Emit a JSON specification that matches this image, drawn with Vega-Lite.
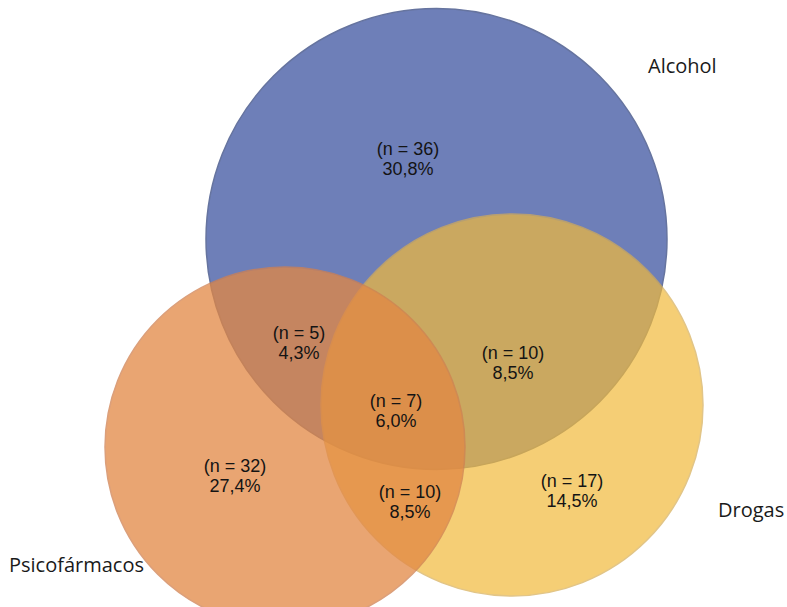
{
  "$schema": "https://vega.github.io/schema/vega-lite/v6.json",
  "autosize": {"type": "none"},
  "width": 787,
  "height": 607,
  "padding": 0,
  "background": "white",
  "config": {"view": {"stroke": null}},
  "datasets": {
    "circles": [
      {"set": "Alcohol", "cx": 436.5, "cy": 239, "r": 230.5},
      {"set": "Drogas", "cx": 512, "cy": 405, "r": 191},
      {"set": "Psicofármacos", "cx": 285, "cy": 447, "r": 180}
    ],
    "regions": [
      {"region": "Solo alcohol", "label": "(n = 36)\n30,8%", "x": 408, "y": 150},
      {"region": "Alcohol y psicofármacos", "label": "(n = 5)\n4,3%", "x": 299, "y": 334},
      {"region": "Alcohol y drogas", "label": "(n = 10)\n8,5%", "x": 513, "y": 354},
      {"region": "Los tres", "label": "(n = 7)\n6,0%", "x": 396, "y": 402},
      {"region": "Solo psicofármacos", "label": "(n = 32)\n27,4%", "x": 235, "y": 467},
      {"region": "Drogas y psicofármacos", "label": "(n = 10)\n8,5%", "x": 410, "y": 493},
      {"region": "Solo drogas", "label": "(n = 17)\n14,5%", "x": 572, "y": 482}
    ],
    "labels": [
      {"label": "Alcohol", "x": 648, "y": 67},
      {"label": "Drogas", "x": 718, "y": 511},
      {"label": "Psicofármacos", "x": 9, "y": 566}
    ]
  },
  "layer": [
    {
      "data": {"name": "circles"},
      "mark": {"type": "point", "shape": "circle", "filled": true, "strokeWidth": 1.5, "clip": false},
      "encoding": {
        "x": {"field": "cx", "type": "quantitative", "scale": {"domain": [0, 787], "nice": false, "zero": false}, "axis": null},
        "y": {"field": "cy", "type": "quantitative", "scale": {"domain": [0, 607], "nice": false, "zero": false, "reverse": true}, "axis": null},
        "size": {"field": "r", "type": "quantitative", "scale": {"type": "pow", "exponent": 2, "domain": [0, 787], "range": [0, 2477476]}, "legend": null},
        "color": {"field": "set", "type": "nominal", "scale": {"domain": ["Alcohol", "Drogas", "Psicofármacos"], "range": ["#6e7fb8", "#f1ba3c", "#e28743"]}, "legend": null},
        "stroke": {"field": "set", "type": "nominal", "scale": {"domain": ["Alcohol", "Drogas", "Psicofármacos"], "range": ["#66749f", "#d6ad55", "#d08050"]}, "legend": null},
        "opacity": {"field": "set", "type": "nominal", "scale": {"type": "ordinal", "domain": ["Alcohol", "Drogas", "Psicofármacos"], "range": [1, 0.7, 0.75]}, "legend": null}
      }
    },
    {
      "data": {"name": "regions"},
      "mark": {"type": "text", "font": "Liberation Sans", "fontSize": 18, "lineHeight": 20, "lineBreak": "\n", "align": "center", "baseline": "middle", "color": "#141414"},
      "encoding": {
        "x": {"field": "x", "type": "quantitative"},
        "y": {"field": "y", "type": "quantitative"},
        "text": {"field": "label"}
      }
    },
    {
      "data": {"name": "labels"},
      "mark": {"type": "text", "font": "Open Sans", "fontSize": 20, "align": "left", "baseline": "middle", "color": "#1a1a1a"},
      "encoding": {
        "x": {"field": "x", "type": "quantitative"},
        "y": {"field": "y", "type": "quantitative"},
        "text": {"field": "label"}
      }
    }
  ]
}
